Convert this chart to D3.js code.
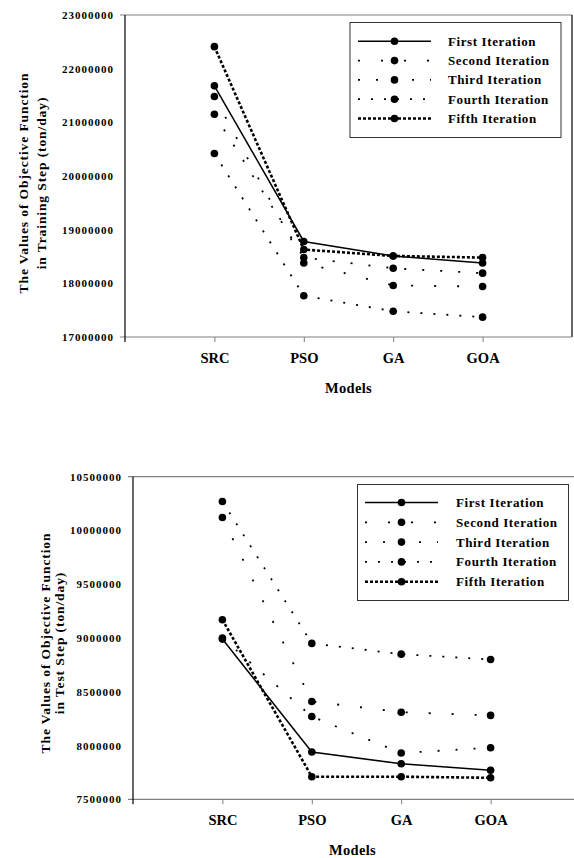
<!DOCTYPE html>
<html>
<head>
<meta charset="utf-8">
<script src="https://cdn.jsdelivr.net/npm/d3@7"></script>
<style>
body { margin: 0; background: #fff; }
svg { display: block; font-family: "Liberation Serif", "Times New Roman", serif; font-weight: bold; }
</style>
</head>
<body>
<svg id="chart" width="574" height="858"></svg>
<script>
const models = ['SRC', 'PSO', 'GA', 'GOA'];
const iterations = ['First Iteration', 'Second Iteration', 'Third Iteration', 'Fourth Iteration', 'Fifth Iteration'];

// training step (ton/day)
const trainFirst  = [21680000, 18780000, 18510000, 18380000];
const trainSecond = [21480000, 18380000, 17960000, 17940000];
const trainThird  = [21150000, 18480000, 18280000, 18190000];
const trainFourth = [20420000, 17770000, 17480000, 17370000];
const trainFifth  = [22410000, 18630000, 18510000, 18480000];
const trainTicks  = [17000000, 18000000, 19000000, 20000000, 21000000, 22000000, 23000000];

// test step (ton/day)
const testFirst  = [8990000, 7940000, 7830000, 7770000];
const testSecond = [10120000, 8410000, 8310000, 8280000];
const testThird  = [9000000, 8270000, 7930000, 7980000];
const testFourth = [10270000, 8950000, 8850000, 8800000];
const testFifth  = [9170000, 7710000, 7710000, 7700000];
const testTicks  = [7500000, 8000000, 8500000, 9000000, 9500000, 10000000, 10500000];

// line style per iteration
const styles = [
    { width: 1.5, dash: null },
    { width: 1.8, dash: '2,21' },
    { width: 1.8, dash: '2,16' },
    { width: 1.8, dash: '2,11' },
    { width: 2.6, dash: '3,2' }
];

const svg = d3.select('#chart');

function drawChart(cfg) {
    const g = svg.append('g');
    const x = d3.scaleLinear().domain([0, models.length + 1]).range([cfg.left, cfg.right]);
    const y = d3.scaleLinear().domain(d3.extent(cfg.ticks)).range([cfg.bottom, cfg.top]);

    // frame
    g.append('line')
        .attr('x1', cfg.left - 5).attr('x2', cfg.right)
        .attr('y1', cfg.top).attr('y2', cfg.top)
        .attr('stroke', '#808080').attr('stroke-width', 1.2);
    g.append('line')
        .attr('x1', cfg.right).attr('x2', cfg.right)
        .attr('y1', cfg.top).attr('y2', cfg.bottom)
        .attr('stroke', '#000').attr('stroke-width', 1.2);

    // x axis
    const xAxis = g.append('g')
        .attr('transform', `translate(0,${cfg.bottom})`)
        .call(d3.axisBottom(x)
            .tickValues(d3.range(1, models.length + 1))
            .tickFormat(i => models[i - 1])
            .tickSize(5)
            .tickSizeOuter(0));
    xAxis.attr('font-family', null).attr('font-size', 14.5);
    xAxis.select('.domain').remove();
    xAxis.selectAll('line').attr('stroke', '#808080');
    xAxis.selectAll('text')
        .attr('dy', null)
        .attr('y', cfg.xLabelY - cfg.bottom)
        .attr('fill', '#000');
    g.append('line')
        .attr('x1', cfg.left - 5).attr('x2', cfg.right)
        .attr('y1', cfg.bottom).attr('y2', cfg.bottom)
        .attr('stroke', '#808080').attr('stroke-width', 1.2);

    // y axis
    const yAxis = g.append('g')
        .attr('transform', `translate(${cfg.left},0)`)
        .call(d3.axisLeft(y)
            .tickValues(cfg.ticks)
            .tickFormat(d3.format('d'))
            .tickSize(0)
            .tickPadding(11));
    yAxis.attr('font-family', null).attr('font-size', 11);
    yAxis.select('.domain').remove();
    yAxis.selectAll('text')
        .attr('fill', '#000')
        .attr('letter-spacing', 1);
    g.append('line')
        .attr('x1', cfg.left).attr('x2', cfg.left)
        .attr('y1', cfg.top).attr('y2', cfg.bottom + 5)
        .attr('stroke', '#000').attr('stroke-width', 1.2);

    // series
    const line = d3.line().x((d, i) => x(i + 1)).y(d => y(d));
    cfg.series.forEach((vals, k) => {
        g.append('path')
            .datum(vals)
            .attr('d', line)
            .attr('fill', 'none')
            .attr('stroke', '#000')
            .attr('stroke-width', styles[k].width)
            .attr('stroke-dasharray', styles[k].dash);
    });
    cfg.series.forEach(vals => {
        g.selectAll(null)
            .data(vals)
            .enter().append('circle')
            .attr('cx', (d, i) => x(i + 1))
            .attr('cy', d => y(d))
            .attr('r', 3.8)
            .attr('fill', '#000');
    });

    // legend
    const lg = cfg.legend;
    g.append('rect')
        .attr('x', lg.x).attr('y', lg.y)
        .attr('width', lg.w).attr('height', lg.h)
        .attr('fill', '#fff').attr('stroke', '#333').attr('stroke-width', 1);
    iterations.forEach((name, k) => {
        const ry = lg.row0 + k * lg.step;
        g.append('line')
            .attr('x1', lg.sx1).attr('x2', lg.sx2)
            .attr('y1', ry).attr('y2', ry)
            .attr('stroke', '#000')
            .attr('stroke-width', styles[k].width)
            .attr('stroke-dasharray', styles[k].dash);
        g.append('circle')
            .attr('cx', (lg.sx1 + lg.sx2) / 2).attr('cy', ry)
            .attr('r', 3.8).attr('fill', '#000');
        g.append('text')
            .attr('x', lg.tx).attr('y', ry + 4.5)
            .attr('font-size', 13)
            .attr('letter-spacing', 0.6)
            .text(name);
    });

    // axis titles
    const cy = cfg.titleY;
    cfg.titleLines.forEach((t, k) => {
        g.append('text')
            .attr('transform', `translate(${cfg.titleX[k]},${cy}) rotate(-90)`)
            .attr('text-anchor', 'middle')
            .attr('font-size', 13.5)
            .attr('letter-spacing', 0.9)
            .text(t);
    });
    g.append('text')
        .attr('x', (cfg.left + cfg.right) / 2 + (cfg.modelsShift || 0))
        .attr('y', cfg.modelsY)
        .attr('text-anchor', 'middle')
        .attr('font-size', 14.5)
        .attr('letter-spacing', 0.3)
        .text('Models');
}

drawChart({
    left: 125, right: 572, top: 15, bottom: 337,
    ticks: trainTicks,
    series: [trainFirst, trainSecond, trainThird, trainFourth, trainFifth],
    legend: { x: 350, y: 22.5, w: 211, h: 115, row0: 41.3, step: 19.3, sx1: 358, sx2: 431, tx: 448 },
    titleLines: ['The Values of Objective Function', 'in Training Step (ton/day)'],
    titleX: [28, 45.5],
    titleY: 183,
    xLabelY: 363,
    modelsY: 393
});

drawChart({
    left: 133, right: 580, top: 476.7, bottom: 799.3,
    ticks: testTicks,
    series: [testFirst, testSecond, testThird, testFourth, testFifth],
    legend: { x: 357.5, y: 484.5, w: 211, h: 116, row0: 502.5, step: 19.8, sx1: 365, sx2: 438, tx: 456 },
    titleLines: ['The Values of Objective Function', 'in Test Step (ton/day)'],
    titleX: [50, 63.5],
    titleY: 643,
    xLabelY: 825,
    modelsY: 855,
    modelsShift: -4
});
</script>
</body>
</html>
